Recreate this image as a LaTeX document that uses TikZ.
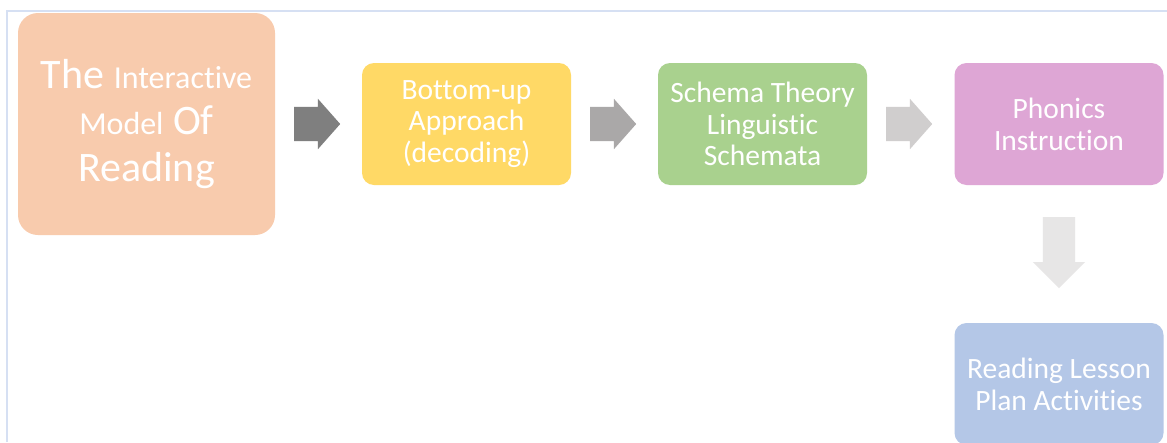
\documentclass[tikz,border=0pt]{standalone}
\usepackage{fontspec}
\setmainfont{Carlito}[Ligatures={NoCommon,NoContextual,NoRequired}]
\usetikzlibrary{shapes.arrows}
\definecolor{framecol}{HTML}{D6E0F3}
\definecolor{peach}{HTML}{F8CBAD}
\definecolor{gold}{HTML}{FFD966}
\definecolor{leaf}{HTML}{A9D18E}
\definecolor{orchid}{HTML}{DEA6D5}
\definecolor{sky}{HTML}{B4C7E7}
\definecolor{grayA}{HTML}{7F7F7F}
\definecolor{grayB}{HTML}{AAA8A8}
\definecolor{grayC}{HTML}{D0CECE}
\definecolor{grayD}{HTML}{E7E6E6}
\newcommand{\smallword}[1]{{\fontsize{32}{46.5}\selectfont #1}}
% keeps "t" and "i" as separate glyphs
\newcommand{\nolig}{\kern0pt }
\tikzset{
  card/.style={rectangle, rounded corners=12pt, fill=#1, draw=none,
    minimum width=209pt, minimum height=122pt, inner sep=0pt,
    text=white, align=center, font=\fontsize{29.5}{31.8}\selectfont},
  bigcard/.style={card=#1, rounded corners=20pt,
    minimum width=257pt, minimum height=222pt,
    font=\fontsize{42}{46.5}\selectfont},
  blockarrow/.style={single arrow, fill=#1, draw=none, anchor=tail,
    inner xsep=0pt, inner ysep=17pt, text height=0pt, text depth=0pt,
    text width=0pt, single arrow head extend=8pt, single arrow tip angle=97,
    minimum height=46pt, minimum width=0pt}
}
\begin{document}
\begin{tikzpicture}[x=1pt,y=-1pt]
  \useasboundingbox (0,0) rectangle (1167,442);
  \clip (0,0) rectangle (1167,442);
  \fill[white] (0,0) rectangle (1167,442);
  % frame lines
  \draw[framecol, line width=2pt] (7,442) -- (7,11) -- (1167,11);

  % boxes
  \node[bigcard=peach] (model) at (146.5,124)
    {The \smallword{Interact\nolig ive}\\
     \smallword{Model} Of\\
     Reading};
  \node[card=gold] (bottomup) at (466.5,124) {Bottom-up\\Approach\\(decoding)};
  \node[card=leaf] (schema) at (762.5,124) {Schema Theory\\Linguist\nolig ic\\Schemata};
  \node[card=orchid] (phonics) at (1059,124) {Phonics\\Instruct\nolig ion};
  \node[card=sky] (lesson) at (1059,384) {Reading Lesson\\Plan Act\nolig ivit\nolig ies};

  % block arrows between the boxes
  \node[blockarrow=grayA] (arr1) at (294,124) {};
  \node[blockarrow=grayB] (arr2) at (590,124) {};
  \node[blockarrow=grayC] (arr3) at (886,124) {};
  \node[blockarrow=grayD, rotate=-90, minimum height=71pt,
        inner ysep=16pt, single arrow head extend=10pt,
        single arrow tip angle=90] (arr4) at (1059,217) {};
\end{tikzpicture}
\end{document}
